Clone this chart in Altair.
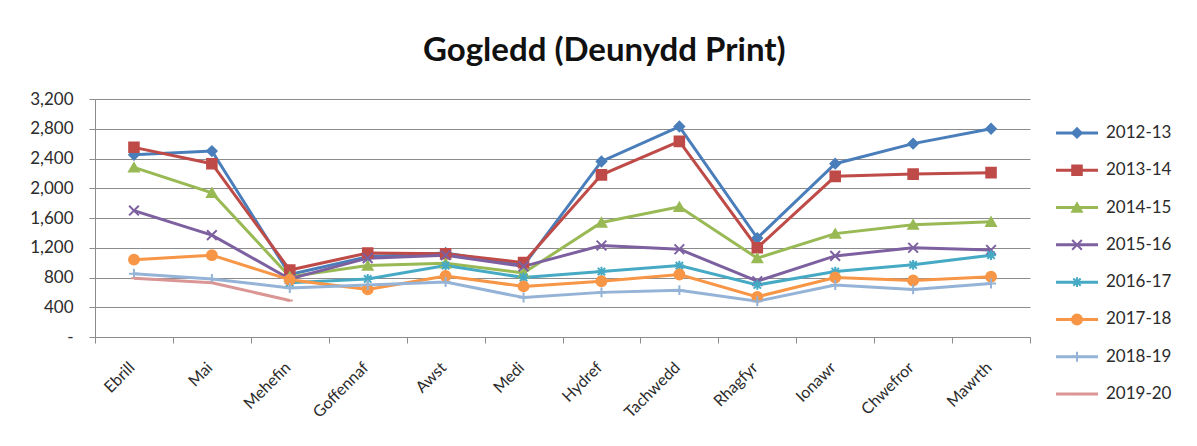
import altair as alt
import pandas as pd

months = ["Ebrill", "Mai", "Mehefin", "Goffennaf", "Awst", "Medi",
          "Hydref", "Tachwedd", "Rhagfyr", "Ionawr", "Chwefror", "Mawrth"]

series = ["2012-13", "2013-14", "2014-15", "2015-16",
          "2016-17", "2017-18", "2018-19", "2019-20"]

v2012_13 = [2450, 2500, 840, 1080, 1130, 960, 2360, 2830, 1330, 2330, 2600, 2800]
v2013_14 = [2550, 2330, 900, 1130, 1120, 1000, 2180, 2630, 1200, 2160, 2190, 2210]
v2014_15 = [2280, 1940, 810, 960, 990, 860, 1540, 1750, 1060, 1390, 1510, 1550]
v2015_16 = [1700, 1370, 780, 1060, 1100, 950, 1230, 1180, 750, 1090, 1200, 1170]
v2016_17 = [None, None, 730, 780, 960, 800, 880, 960, 700, 880, 970, 1100]
v2017_18 = [1040, 1100, 770, 640, 820, 680, 750, 840, 540, 800, 760, 810]
v2018_19 = [850, 780, 660, 700, 740, 530, 600, 630, 480, 700, 640, 720]
v2019_20 = [790, 730, 490, None, None, None, None, None, None, None, None, None]

values = [v2012_13, v2013_14, v2014_15, v2015_16, v2016_17, v2017_18, v2018_19, v2019_20]

colors = ["#4A7EBB", "#BE4B48", "#98B954", "#7D60A0", "#46AAC5", "#F79646", "#95B3D7", "#D99694"]
shapes = [
    "diamond", "square", "triangle-up",
    "M-1,-1L1,1M-1,1L1,-1",
    "M-1,0L1,0M0,-1L0,1M-0.75,-0.75L0.75,0.75M-0.75,0.75L0.75,-0.75",
    "circle",
    "M-1,0L1,0M0,-1L0,1",
    "M-0.6,0L0.6,0",
]
fills = [colors[0], colors[1], colors[2], "transparent", "transparent", colors[5], "transparent", "transparent"]
sizes = [90, 100, 100, 110, 110, 110, 110, 110]
widths = [3, 3, 3, 3, 3, 3, 2.5, 2.5]

rows = []
for s, vals in zip(series, values):
    for m, v in zip(months, vals):
        if v is not None:
            rows.append({"Month": m, "Series": s, "Value": v})
df = pd.DataFrame(rows)
leg_df = pd.DataFrame({"Series": series})

FONT = "Lato"
GRID = "#8C8C8C"
TXT = "#2b2b2b"

color_enc = alt.Color("Series:N", scale=alt.Scale(domain=series, range=colors), legend=None)
shape_enc = alt.Shape("Series:N", scale=alt.Scale(domain=series, range=shapes), legend=None)
fill_enc = alt.Fill("Series:N", scale=alt.Scale(domain=series, range=fills), legend=None)
size_enc = alt.Size("Series:N", scale=alt.Scale(domain=series, range=sizes), legend=None)
sw_enc = alt.StrokeWidth("Series:N", scale=alt.Scale(domain=series, range=widths), legend=None)

base = alt.Chart(df).encode(
    x=alt.X("Month:N", sort=months, bandPosition=0.5,
            scale=alt.Scale(type="band", paddingInner=0, paddingOuter=0),
            axis=alt.Axis(title=None, labelAngle=-45, tickBand="extent", grid=False,
                          domainColor=GRID, tickColor=GRID, tickSize=6,
                          labelFont=FONT, labelFontSize=16, labelColor=TXT,
                          labelPadding=16, labelOffset=-8)),
    y=alt.Y("Value:Q", scale=alt.Scale(domain=[0, 3200], nice=False),
            axis=alt.Axis(title=None, values=list(range(0, 3201, 400)),
                          labelExpr="datum.value == 0 ? '-\u2007\u2007' : format(datum.value, ',')",
                          grid=True, gridColor=GRID, gridWidth=1.2,
                          domainColor=GRID, tickColor=GRID, tickSize=6,
                          labelFont=FONT, labelFontSize=17, labelColor=TXT,
                          labelPadding=16)),
    color=color_enc,
)

lines = base.mark_line().encode(strokeWidth=sw_enc)
points = base.mark_point(opacity=1, strokeWidth=2).encode(shape=shape_enc, fill=fill_enc, size=size_enc)

main = alt.layer(lines, points).properties(width=935, height=238)

ly = alt.Y("Series:N", sort=series, axis=None, scale=alt.Scale(type="point", padding=0.91))
lbase = alt.Chart(leg_df).encode(y=ly, color=color_enc)
lrule = lbase.mark_rule().encode(x=alt.value(0), x2=alt.value(42), strokeWidth=sw_enc)
lpts = lbase.mark_point(opacity=1, strokeWidth=2).encode(x=alt.value(21), shape=shape_enc, fill=fill_enc, size=size_enc)
ltxt = alt.Chart(leg_df).mark_text(align="left", baseline="middle", font=FONT, fontSize=17, color=TXT).encode(
    y=ly, x=alt.value(50), text="Series:N")
legend = alt.layer(lrule, lpts, ltxt).properties(width=125, height=329)

chart = alt.hconcat(main, legend, spacing=23).properties(
    title=alt.TitleParams("Gogledd (Deunydd Print)", font=FONT, fontSize=33, fontWeight="bold",
                          color="#111111", anchor="middle", offset=22, dx=-1),
    padding={"left": 21, "top": 27, "right": 5, "bottom": 5},
).configure_view(stroke=None)

chart.save("out.html", embed_options={"renderer": "svg", "actions": False})
